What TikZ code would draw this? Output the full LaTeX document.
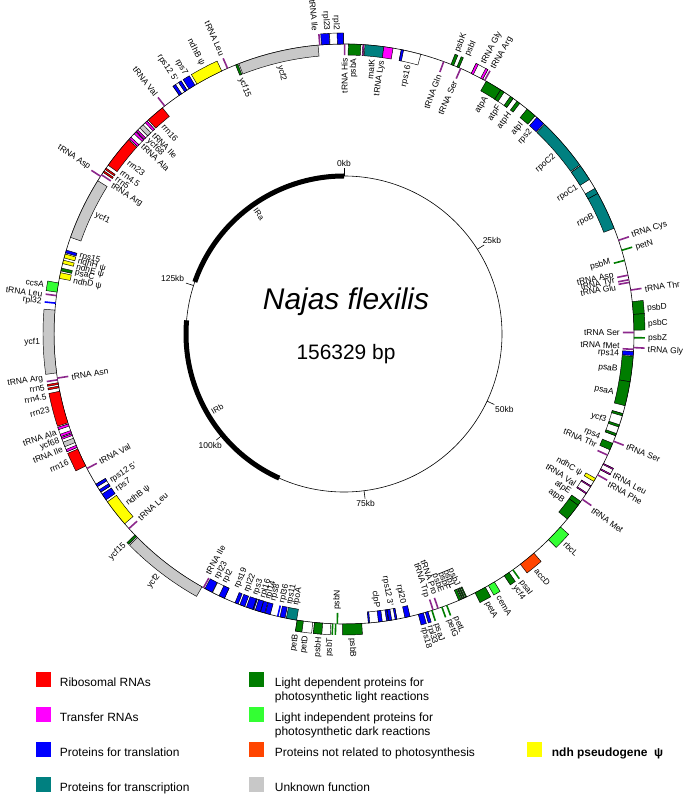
\documentclass[tikz,border=0pt]{standalone}
\usepackage{fontspec}
\setmainfont{Liberation Sans}
\usepackage{tikz}
\usetikzlibrary{positioning}

% gene classes
\definecolor{rrnared}{RGB}{255,0,0}
\definecolor{trnamag}{RGB}{255,0,255}
\definecolor{trnatick}{RGB}{140,40,140}
\definecolor{transl}{RGB}{0,0,255}
\definecolor{transc}{RGB}{0,128,128}
\definecolor{lightdep}{RGB}{0,125,0}
\definecolor{lightind}{RGB}{51,255,51}
\definecolor{notphoto}{RGB}{255,69,0}
\definecolor{unknown}{RGB}{200,200,200}
\definecolor{ndhpseudo}{RGB}{255,255,0}

% degrees per kb (genome 156.329 kb), ring radius 290, box height 11
\newcommand{\kbdeg}{2.30283}

% box between two positions (kb), side 1 = outside, -1 = inside
\newcommand{\gexon}[4]{%
  \pgfmathsetmacro{\gsa}{90-(#1)*\kbdeg}%
  \pgfmathsetmacro{\gsb}{90-(#2)*\kbdeg}%
  \pgfmathsetmacro{\gsr}{290+(#3)*11}%
  \draw[genebox,fill=#4] (\gsa:290) arc[start angle=\gsa,end angle=\gsb,radius=290]
    -- (\gsb:\gsr) arc[start angle=\gsb,end angle=\gsa,radius=\gsr] -- cycle;
}
% radial gene name
\newcommand{\glabel}[3]{%
  \pgfmathsetmacro{\gla}{90-(#1)*\kbdeg}%
  \pgfmathsetmacro{\glr}{290+(#2)*14}%
  \pgfmathsetmacro{\glc}{cos(\gla)}%
  \pgfmathtruncatemacro{\gls}{#2}%
  \ifdim\glc pt>0pt
    \pgfmathsetmacro{\glt}{\gla}%
    \ifnum\gls>0 \def\glanc{west}\else\def\glanc{east}\fi
  \else
    \pgfmathsetmacro{\glt}{\gla+180}%
    \ifnum\gls>0 \def\glanc{east}\else\def\glanc{west}\fi
  \fi
  \node[genename,anchor=\glanc,rotate=\glt] at (\gla:\glr) {#3};
}
\newcommand{\gene}[6][]{%
  \gexon{#2}{#3}{#4}{#5}%
  \ifx\relax#1\relax\glabel{((#2)+(#3))/2}{#4}{#6}\else\glabel{#1}{#4}{#6}\fi
}
\newcommand{\gtick}[5][]{%
  \pgfmathsetmacro{\gta}{90-(#2)*\kbdeg}%
  \pgfmathsetmacro{\gtr}{290+(#3)*11}%
  \draw[genetick,draw=#4] (\gta:290) -- (\gta:\gtr);
  \ifx\relax#1\relax\glabel{#2}{#3}{#5}\else\glabel{#1}{#3}{#5}\fi
}

% inverted repeat genes, written for IRa; \irp and \irs mirror them into IRb
\newcommand{\irgenes}{%
  \gene{\irp{125.7}}{\irp{131.1}}{-\irs}{unknown}{ycf1}
  \gtick[\irp{131.67}]{\irp{131.55}}{\irs}{trnatick}{\irname}
  \gtick[\irp{131.4}]{\irp{131.7}}{-\irs}{trnatick}{tRNA Arg}
  \gene[\irp{132.15}]{\irp{131.95}}{\irp{132.1}}{-\irs}{rrnared}{rrn5}
  \gene[\irp{132.9}]{\irp{132.25}}{\irp{132.4}}{-\irs}{rrnared}{rrn4.5}
  \gene[\irp{134.0}]{\irp{132.7}}{\irp{135.5}}{-\irs}{rrnared}{rrn23}
  \gene[\irp{135.96}]{\irp{135.6}}{\irp{136.4}}{-\irs}{white}{tRNA Ala}
  \gexon{\irp{135.6}}{\irp{135.8}}{-\irs}{trnamag}
  \gexon{\irp{136.2}}{\irp{136.4}}{-\irs}{trnamag}
  \gene[\irp{137.4}]{\irp{136.5}}{\irp{137.75}}{-\irs}{white}{tRNA Ile}
  \gexon{\irp{136.5}}{\irp{136.65}}{-\irs}{trnamag}
  \gexon{\irp{137.55}}{\irp{137.75}}{-\irs}{trnamag}
  \gene[\irp{136.68}]{\irp{136.9}}{\irp{137.3}}{-\irs}{unknown}{ycf68}
  \gene[\irp{138.56}]{\irp{137.9}}{\irp{139.5}}{-\irs}{rrnared}{rrn16}
  \gtick{\irp{139.75}}{\irs}{trnatick}{tRNA Val}
  \gene[\irp{141.74}]{\irp{141.3}}{\irp{142.1}}{\irs}{white}{rps12 5'}
  \gexon{\irp{141.3}}{\irp{141.55}}{\irs}{transl}
  \gexon{\irp{141.85}}{\irp{142.1}}{\irs}{transl}
  \gene[\irp{142.7}]{\irp{142.3}}{\irp{142.9}}{\irs}{transl}{rps7}
  \gene[\irp{144.3}]{\irp{143.1}}{\irp{145.5}}{\irs}{ndhpseudo}{ndhB ψ}
  \gtick{\irp{146.05}}{\irs}{trnatick}{tRNA Leu}
  \gene[\irp{146.8}]{\irp{146.8}}{\irp{147.0}}{-\irs}{lightdep}{ycf15}
  \gene[\irp{150.5}]{\irp{147.1}}{\irp{154.1}}{-\irs}{unknown}{ycf2}
  \gtick[\irp{153.97}]{\irp{154.25}}{\irs}{trnatick}{tRNA Ile}
  \gene[\irp{154.9}]{\irp{154.4}}{\irp{155.1}}{\irs}{transl}{rpl23}
  \gene[\irp{155.7}]{\irp{155.13}}{\irp{156.27}}{\irs}{white}{rpl2}
  \gexon{\irp{155.76}}{\irp{156.27}}{\irs}{transl}
}

\begin{document}
\begin{tikzpicture}[x=1bp,y=1bp,
  genebox/.style={draw=black,line width=0.45bp},
  genetick/.style={line width=1.6bp},
  genename/.style={font=\fontsize{8.5}{10}\selectfont,inner sep=0pt},
  ringline/.style={line width=0.6bp},
  scalelabel/.style={font=\fontsize{8.5}{10}\selectfont,inner sep=1.5bp},
  irarc/.style={line width=5bp},
  irname/.style={font=\fontsize{8}{10}\selectfont,inner sep=0pt},
  legendbox/.style={minimum size=15bp,inner sep=0pt},
  legendtext/.style={font=\fontsize{12}{14}\selectfont,align=left,inner sep=0pt}]

  \fill[white] (-344,-462) rectangle (346,334);
  \useasboundingbox (-344,-462) rectangle (346,334);

  % inner circle with kb scale
  \draw[ringline] (0,0) circle[radius=158];
  \draw[irarc] ({90-125.6*\kbdeg}:158) arc[start angle={90-125.6*\kbdeg},end angle=-270,radius=158];
  \draw[irarc] ({90-88.67*\kbdeg}:158) arc[start angle={90-88.67*\kbdeg},end angle={90-119.4*\kbdeg},radius=158];
  \foreach \kbv in {0,25,50,75,100,125}{
    \pgfmathsetmacro{\kba}{90-\kbv*\kbdeg}
    \pgfmathtruncatemacro{\kbl}{mod(630-\kbv*\kbdeg,360)}
    \draw[ringline] (\kba:158) -- (\kba:166) node[scalelabel,anchor=\kbl] {\kbv kb};
  }
  \node[irname,rotate={270-140.97*\kbdeg}] (ira) at ({90-140.97*\kbdeg}:147) {IRa};
  \node[irname,rotate={270-104.0*\kbdeg}] (irb) at ({90-104.0*\kbdeg}:147) {IRb};

  % title
  \node[font=\itshape\fontsize{30}{36}\selectfont] (species) at (2,32) {Najas flexilis};
  \node[font=\fontsize{21}{25}\selectfont] (length) at (2,-20) {156329 bp};

  % genome ring
  \draw[ringline] (0,0) circle[radius=290];

  % LSC, inside
  \gtick{0.05}{-1}{trnatick}{tRNA His}
  \gene{0.37}{1.45}{-1}{lightdep}{psbA}
  \gexon{1.62}{1.72}{-1}{trnamag}
  \gene[2.55]{1.8}{3.43}{-1}{transc}{matK}
  \gexon{3.43}{4.23}{-1}{trnamag}
  \glabel{3.45}{-1}{tRNA Lys}
  \gene[5.9]{4.95}{6.67}{-1}{white}{rps16}
  \gexon{4.95}{5.15}{-1}{transl}
  \gtick{8.73}{-1}{trnatick}{tRNA Gln}
  \gtick{10.3}{-1}{trnatick}{tRNA Ser}
  \gene{12.75}{14.2}{-1}{lightdep}{atpA}
  \gene[14.9]{14.2}{15.5}{-1}{white}{atpF}
  \gexon{14.2}{14.55}{-1}{lightdep}
  \gexon{15.2}{15.5}{-1}{lightdep}
  \gene{15.9}{16.2}{-1}{lightdep}{atpH}
  \gene{17.0}{17.9}{-1}{lightdep}{atpI}
  \gene{18.1}{18.9}{-1}{transl}{rps2}
  \gene[21.6]{19.0}{23.6}{-1}{transc}{rpoC2}
  \gene[25.1]{23.7}{26.5}{-1}{white}{rpoC1}
  \gexon{23.7}{25.1}{-1}{transc}
  \gexon{26.0}{26.5}{-1}{transc}
  \gene{26.5}{29.8}{-1}{transc}{rpoB}
  \gtick[32.5]{32.7}{-1}{lightdep}{psbM}
  \gtick[33.75]{34.0}{-1}{trnatick}{tRNA Asp}
  \gtick[34.3]{34.4}{-1}{trnatick}{tRNA Tyr}
  \gtick[34.85]{34.63}{-1}{trnatick}{tRNA Glu}
  \gtick{38.95}{-1}{trnatick}{tRNA Ser}
  \gtick[40.15]{40.4}{-1}{trnatick}{tRNA fMet}
  \gene[40.9]{40.58}{40.93}{-1}{transl}{rps14}
  \gene[42.3]{41.0}{43.2}{-1}{lightdep}{psaB}
  \gene[44.4]{43.2}{45.3}{-1}{lightdep}{psaA}
  \gene{46.0}{48.0}{-1}{white}{ycf3}
  \gexon{46.0}{46.2}{-1}{lightdep}
  \gexon{47.0}{47.2}{-1}{lightdep}
  \gexon{47.8}{48.0}{-1}{lightdep}
  \gene[48.6]{48.7}{49.3}{-1}{lightdep}{rps4}
  \gtick[49.4]{49.8}{-1}{trnatick}{tRNA Thr}
  \gene[52.3]{52.05}{52.35}{-1}{ndhpseudo}{ndhC ψ}
  \gene[53.4]{52.8}{53.6}{-1}{white}{tRNA Val}
  \gexon{52.8}{52.9}{-1}{trnamag}
  \gexon{53.5}{53.6}{-1}{trnamag}
  \gene[54.3]{54.4}{54.8}{-1}{lightdep}{atpE}
  \gene[55.3]{54.8}{56.3}{-1}{lightdep}{atpB}
  \gene[67.6]{67.3}{67.4}{-1}{lightdep}{psbJ}
  \gene[68.1]{67.48}{67.58}{-1}{lightdep}{psbL}
  \gene[68.6]{67.65}{67.75}{-1}{lightdep}{psbF}
  \gene[69.2]{67.82}{68.05}{-1}{lightdep}{psbE}
  \gtick[69.8]{69.95}{-1}{trnatick}{tRNA Pro}
  \gtick[70.6]{70.4}{-1}{trnatick}{tRNA Trp}
  \gene[72.8]{72.45}{72.9}{-1}{transl}{rpl20}
  \gene[74.0]{73.6}{74.3}{-1}{white}{rps12 3'}
  \gexon{73.6}{73.75}{-1}{transl}
  \gexon{74.05}{74.3}{-1}{transl}
  \gene[75.2]{74.35}{76.07}{-1}{white}{clpP}
  \gexon{74.35}{74.5}{-1}{transl}
  \gexon{74.87}{75.2}{-1}{transl}
  \gexon{75.95}{76.07}{-1}{transl}
  \gtick[78.8]{78.74}{-1}{lightdep}{psbN}
  \gene[82.5]{82.25}{83.15}{-1}{transc}{rpoA}
  \gene[83.1]{83.26}{83.7}{-1}{transl}{rps11}
  \gtick[83.8]{83.9}{-1}{transl}{rpl36}
  \gene[84.6]{84.56}{85.0}{-1}{transl}{rps8}
  \gene[85.1]{85.05}{85.43}{-1}{transl}{rpl14}
  \gene[85.6]{85.45}{86.12}{-1}{white}{rpl16}
  \gexon{85.45}{85.9}{-1}{transl}
  \gexon{86.02}{86.12}{-1}{transl}
  \gene[86.3]{86.12}{86.7}{-1}{transl}{rps3}
  \gene[87.15]{86.85}{87.3}{-1}{transl}{rpl22}
  \gene[88.1]{87.46}{87.75}{-1}{transl}{rps19}

  % LSC, outside
  \gene[9.5]{9.4}{9.65}{1}{lightdep}{psbK}
  \gene[10.4]{9.95}{10.15}{1}{lightdep}{psbI}
  \gene{11.3}{12.4}{1}{white}{tRNA Gly}
  \gexon{11.3}{11.5}{1}{trnamag}
  \gexon{12.2}{12.4}{1}{trnamag}
  \gtick[12.75]{12.6}{1}{trnatick}{tRNA Arg}
  \gtick{30.9}{1}{trnatick}{tRNA Cys}
  \gtick[31.95]{31.8}{1}{lightdep}{petN}
  \gtick[35.4]{35.3}{1}{trnatick}{tRNA Thr}
  \gene[37.0]{36.3}{37.4}{1}{lightdep}{psbD}
  \gene[38.25]{37.4}{38.75}{1}{lightdep}{psbC}
  \gtick{39.4}{1}{lightdep}{psbZ}
  \gtick[40.4]{40.25}{1}{trnatick}{tRNA Gly}
  \gtick{48.5}{1}{trnatick}{tRNA Ser}
  \gene[51.1]{50.6}{51.2}{1}{white}{tRNA Leu}
  \gexon{50.6}{50.7}{1}{trnamag}
  \gexon{51.1}{51.2}{1}{trnamag}
  \gtick[51.9]{51.7}{1}{trnatick}{tRNA Phe}
  \gtick[54.4]{54.17}{1}{trnatick}{tRNA Met}
  \gene{57.2}{58.7}{1}{lightind}{rbcL}
  \gene{60.4}{61.9}{1}{notphoto}{accD}
  \gtick{62.7}{1}{lightdep}{psaI}
  \gene{63.1}{63.6}{1}{lightdep}{ycf4}
  \gene{64.6}{65.2}{1}{lightind}{cemA}
  \gene{65.5}{66.5}{1}{lightdep}{petA}
  \gtick[68.8]{69.16}{1}{lightdep}{petL}
  \gtick[69.4]{69.6}{1}{lightdep}{petG}
  \gtick{70.5}{1}{lightdep}{psaJ}
  \gene[71.05]{70.85}{71.1}{1}{transl}{rpl33}
  \gene[71.6]{71.27}{71.72}{1}{transl}{rps18}
  \gene[77.5]{76.64}{78.28}{1}{lightdep}{psbB}
  \gtick[79.3]{78.88}{1}{lightdep}{psbT}
  \gtick[80.2]{79.14}{1}{lightdep}{psbH}
  \gene[81.3]{79.3}{80.7}{1}{white}{petD}
  \gexon{80.0}{80.7}{1}{lightdep}
  \gene[82.1]{80.85}{82.2}{1}{white}{petB}
  \gexon{81.66}{82.2}{1}{lightdep}

  % inverted repeats: IRa, then mirrored IRb
  \def\irp#1{(#1)}\def\irs{1}\def\irname{tRNA Asp}
  \irgenes
  \def\irp#1{(245-(#1))}\def\irs{(-1)}\def\irname{tRNA Asn}
  \irgenes

  % SSC
  \gtick{119.9}{1}{transl}{rpl32}
  \gtick[120.5]{120.55}{1}{trnatick}{tRNA Leu}
  \gene[121.3]{120.85}{121.65}{1}{lightind}{ccsA}
  \gene[122.05]{122.05}{122.55}{-1}{ndhpseudo}{ndhD ψ}
  \gene[122.8]{122.7}{122.95}{-1}{lightdep}{psaC}
  \gene[123.3]{123.35}{123.65}{-1}{ndhpseudo}{ndhE ψ}
  \gene[123.9]{123.85}{124.2}{-1}{ndhpseudo}{ndhH ψ}
  \gene[124.45]{124.3}{124.55}{-1}{transl}{rps15}

  % legend
  \node[legendbox,fill=rrnared] (lrrna) at (-300,-345) {};
  \node[legendtext,below right=6.5bp and 8bp of lrrna.north east] (trrna) {Ribosomal RNAs};
  \node[legendbox,fill=trnamag] (ltrna) at (-300,-380) {};
  \node[legendtext,below right=6.5bp and 8bp of ltrna.north east] (ttrna) {Transfer RNAs};
  \node[legendbox,fill=transl] (ltransl) at (-300,-415) {};
  \node[legendtext,below right=6.5bp and 8bp of ltransl.north east] (ttransl) {Proteins for translation};
  \node[legendbox,fill=transc] (ltransc) at (-300,-450) {};
  \node[legendtext,below right=6.5bp and 8bp of ltransc.north east] (ttransc) {Proteins for transcription};
  \node[legendbox,fill=lightdep] (ldep) at (-87,-345) {};
  \node[legendtext,below right=6.5bp and 10bp of ldep.north east] (tdep) {Light dependent proteins for\\photosynthetic light reactions};
  \node[legendbox,fill=lightind] (lind) at (-87,-380) {};
  \node[legendtext,below right=6.5bp and 10bp of lind.north east] (tind) {Light independent proteins for\\photosynthetic dark reactions};
  \node[legendbox,fill=notphoto] (lnot) at (-87,-415) {};
  \node[legendtext,below right=6.5bp and 10bp of lnot.north east] (tnot) {Proteins not related to photosynthesis};
  \node[legendbox,fill=unknown] (lunk) at (-87,-450) {};
  \node[legendtext,below right=6.5bp and 10bp of lunk.north east] (tunk) {Unknown function};
  \node[legendbox,fill=ndhpseudo] (lndh) at (190,-415) {};
  \node[legendtext,font=\bfseries\fontsize{12}{14}\selectfont,below right=6.5bp and 10bp of lndh.north east] (tndh) {ndh pseudogene\ \ ψ};
\end{tikzpicture}
\end{document}
